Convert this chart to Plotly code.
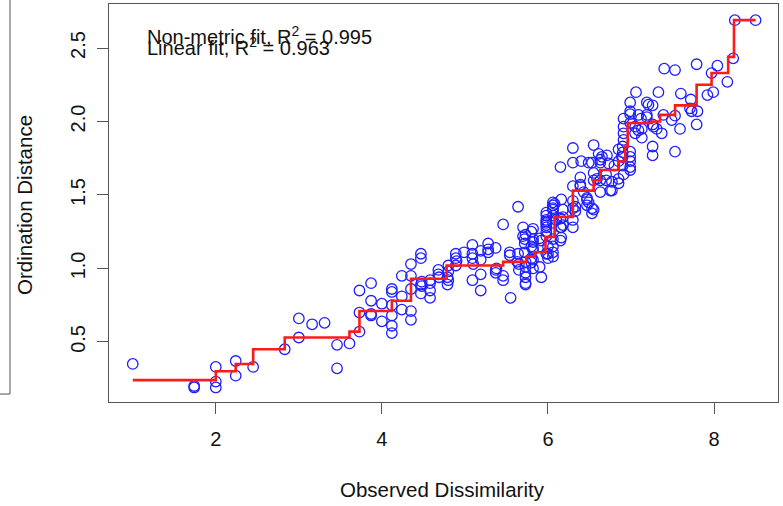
import plotly.graph_objects as go

# Shepard diagram: observed dissimilarity vs ordination distance
obs_dissim = [
    1.00, 1.74, 1.74, 2.00, 2.00, 2.00, 2.24, 2.24, 2.45, 2.83, 3.00, 3.00, 3.16, 3.31, 3.46, 3.46, 3.61, 3.73, 3.73, 3.73,
    3.87, 3.87, 3.87, 3.87, 4.00, 4.00, 4.12, 4.12, 4.12, 4.12, 4.12, 4.12, 4.24, 4.24, 4.24, 4.35, 4.35, 4.35, 4.35, 4.35,
    4.47, 4.47, 4.47, 4.47, 4.48, 4.48,
    4.58, 4.58, 4.58, 4.58, 4.68, 4.68, 4.69, 4.79, 4.79, 4.80, 4.80, 4.80, 4.89, 4.89, 4.89, 4.90, 4.99, 5.09, 5.09, 5.09,
    5.10, 5.09, 5.19, 5.19, 5.19, 5.19, 5.28, 5.28, 5.28,
    5.37, 5.37, 5.37, 5.38, 5.46, 5.46, 5.46, 5.54, 5.54, 5.55, 5.64, 5.64, 5.63, 5.65, 5.65, 5.70, 5.70, 5.72, 5.72, 5.72,
    5.73, 5.73, 5.73, 5.73, 5.73, 5.73, 5.73, 5.80, 5.80, 5.80, 5.80, 5.82, 5.82, 5.82, 5.82, 5.82, 5.82, 5.82, 5.90, 5.90,
    5.92, 5.92,
    5.98, 5.98, 5.98, 5.98, 5.98, 5.98, 5.98, 5.98, 5.98, 5.98, 6.00, 6.00, 6.00,
    6.06, 6.06, 6.06, 6.06, 6.06, 6.06, 6.06, 6.06, 6.06, 6.06, 6.08, 6.10, 6.15, 6.15, 6.15, 6.15, 6.16, 6.16, 6.16,
    6.18, 6.18, 6.18,
    6.30, 6.30, 6.30, 6.30, 6.30, 6.30, 6.30, 6.33, 6.33, 6.39, 6.39, 6.39, 6.40, 6.43, 6.47, 6.47, 6.47, 6.49, 6.49,
    6.53, 6.53, 6.53, 6.55, 6.55, 6.55, 6.55, 6.59, 6.61, 6.63, 6.63, 6.63, 6.63, 6.65, 6.70, 6.70, 6.71, 6.73, 6.75,
    6.77, 6.77, 6.80, 6.85, 6.85, 6.85, 6.85, 6.89,
    6.90, 6.90, 6.90, 6.90, 6.91, 6.91, 6.91, 6.91, 6.91, 6.99, 6.99, 6.99, 6.99, 6.99, 6.99, 6.99, 6.99, 6.99,
    7.05, 7.05, 7.06, 7.09, 7.09, 7.12, 7.13, 7.13, 7.19, 7.19, 7.19, 7.21, 7.26, 7.26, 7.26, 7.26, 7.27,
    7.31, 7.33, 7.37, 7.39, 7.40, 7.49, 7.53, 7.53, 7.53, 7.59, 7.60, 7.71, 7.72, 7.73, 7.79, 7.79, 7.80,
    7.92, 7.97, 7.99, 8.04, 8.16, 8.23, 8.25, 8.50,
]
ord_dist = [
    0.35, 0.20, 0.19, 0.33, 0.23, 0.19, 0.37, 0.27, 0.33, 0.45, 0.66, 0.53, 0.62, 0.63, 0.48, 0.32, 0.49, 0.85, 0.70, 0.57,
    0.90, 0.78, 0.68, 0.69, 0.76, 0.64, 0.86, 0.84, 0.75, 0.68, 0.61, 0.56, 0.95, 0.81, 0.72, 1.03, 0.95, 0.86, 0.71, 0.65,
    1.10, 1.07, 0.89, 0.83, 0.91, 0.88,
    0.90, 0.80, 0.92, 0.85, 0.99, 0.96, 0.94, 0.94, 0.89, 1.02, 0.98, 0.92, 1.10, 1.07, 1.02, 1.05, 1.11, 1.16, 1.10, 1.07,
    1.03, 0.92, 1.06, 1.12, 0.96, 0.85, 1.17, 1.11, 1.13,
    1.14, 0.99, 0.97, 1.00, 1.30, 0.95, 0.92, 1.09, 1.11, 0.80, 1.42, 1.10, 1.045, 0.99, 1.03, 1.28, 1.22, 1.17, 1.20, 1.11,
    1.01, 0.97, 0.94, 0.90, 0.89, 1.045, 1.23, 1.25, 1.15, 1.07, 1.04, 1.18, 1.14, 1.06, 1.00, 1.27, 1.20, 1.125, 1.01, 1.205,
    1.19, 0.94,
    1.36, 1.31, 1.38, 1.32, 1.295, 1.10, 1.22, 1.28, 1.33, 1.25, 1.15, 1.10, 1.07,
    1.45, 1.43, 1.41, 1.36, 1.31, 1.15, 1.11, 1.08, 1.40, 1.20, 1.44, 1.33, 1.19, 1.28, 1.34, 1.69, 1.28, 1.21, 1.47,
    1.40, 1.35, 1.295,
    1.72, 1.56, 1.41, 1.28, 1.33, 1.82, 1.46, 1.42, 1.39, 1.62, 1.56, 1.57, 1.73, 1.52, 1.47, 1.43, 1.48, 1.72, 1.45,
    1.41, 1.375, 1.72, 1.84, 1.65, 1.60, 1.40, 1.61, 1.78, 1.74, 1.72, 1.52, 1.60, 1.76, 1.60, 1.64, 1.77, 1.715, 1.53,
    1.53, 1.59, 1.70, 1.81, 1.73, 1.58, 1.61, 1.76,
    1.83, 1.70, 1.76, 1.79, 1.64, 2.02, 1.965, 1.92, 1.875, 1.795, 1.76, 1.73, 1.69, 1.67, 2.07, 2.05, 1.99, 2.13,
    1.965, 1.92, 2.20, 2.045, 1.94, 2.02, 1.89, 1.95, 2.045, 2.13, 2.03, 2.115, 2.11, 1.83, 1.77, 1.98, 1.965,
    1.95, 2.20, 1.92, 2.045, 2.36, 2.01, 2.35, 2.04, 1.795, 1.95, 2.19, 2.09, 2.15, 2.07, 2.39, 1.98, 2.07,
    2.18, 2.33, 2.20, 2.38, 2.27, 2.43, 2.69, 2.69,
]

# monotone (non-metric) fit, drawn as a step line
fit_x = [1.00, 2.00, 2.24, 2.45, 2.83, 3.61, 3.73, 4.12, 4.35, 4.78, 5.46, 5.74, 5.84, 5.97, 6.08, 6.30,
         6.55, 6.63, 6.85, 6.93, 6.96, 7.25, 7.35, 7.53, 7.79, 7.97, 8.17, 8.24, 8.50]
fit_y = [0.24, 0.30, 0.35, 0.45, 0.53, 0.57, 0.71, 0.78, 0.93, 1.02, 1.045, 1.08, 1.11, 1.215, 1.35, 1.53,
         1.60, 1.67, 1.73, 1.83, 1.99, 2.00, 2.045, 2.11, 2.25, 2.33, 2.44, 2.69, 2.69]

FONT = "Liberation Sans, Arial, sans-serif"

fig = go.Figure()
fig.add_trace(go.Scatter(
    x=obs_dissim, y=ord_dist, mode="markers",
    marker=dict(symbol="circle-open", size=10.5, color="#1f1fff", line=dict(width=1.3)),
    hoverinfo="skip", showlegend=False,
))
fig.add_trace(go.Scatter(
    x=fit_x, y=fit_y, mode="lines", line=dict(color="#ff1a1a", width=2.6, shape="hv"),
    hoverinfo="skip", showlegend=False,
))

axis_common = dict(
    showgrid=False, zeroline=False, showline=True, mirror=True, automargin=False,
    linecolor="#555", linewidth=1, ticks="outside", ticklen=11, tickcolor="#555",
    tickfont=dict(family=FONT, size=20, color="#111"),
)
fig.update_xaxes(range=[0.714, 8.77], tickvals=[2, 4, 6, 8], ticklabelstandoff=8, **axis_common)
fig.update_yaxes(range=[0.091, 2.80], tickvals=[0.5, 1.0, 1.5, 2.0, 2.5],
                 ticktext=["0.5", "1.0", "1.5", "2.0", "2.5"], tickangle=-90, ticklabelstandoff=4, **axis_common)

fig.update_layout(
    width=783, height=506,
    margin=dict(l=109, r=5, t=4, b=104, autoexpand=False),
    plot_bgcolor="white", paper_bgcolor="white",
    font=dict(family=FONT, color="#111"),
    annotations=[
        dict(text="Observed Dissimilarity", xref="paper", yref="paper", x=0.499, y=-0.221,
             xanchor="center", yanchor="middle", showarrow=False, font=dict(size=20.5)),
        dict(text="Ordination Distance", xref="paper", yref="paper", x=-0.1256, y=0.495, textangle=-90,
             xanchor="center", yanchor="middle", showarrow=False, font=dict(size=20.5)),
        dict(text="Non-metric fit, R<sup>2</sup> = 0.995", xref="paper", yref="paper", x=0.054, y=0.9196,
             xanchor="left", yanchor="middle", showarrow=False, font=dict(size=20)),
        dict(text="Linear fit, R<sup>2</sup> = 0.963", xref="paper", yref="paper", x=0.054, y=0.894,
             xanchor="left", yanchor="middle", showarrow=False, font=dict(size=20)),
    ],
    shapes=[
        dict(type="line", xref="paper", yref="paper", x0=-0.148, x1=-0.148, y0=0.020, y1=1.05,
             line=dict(color="#555", width=1)),
        dict(type="line", xref="paper", yref="paper", x0=-0.2, x1=-0.148, y0=0.020, y1=0.020,
             line=dict(color="#555", width=1)),
    ],
)

# the page body has a default 8px margin; remove it so the figure sits at the window origin
fig.write_html("out.html", config={"displayModeBar": False},
               post_script="document.body.style.margin='0';document.body.style.overflow='hidden';")
